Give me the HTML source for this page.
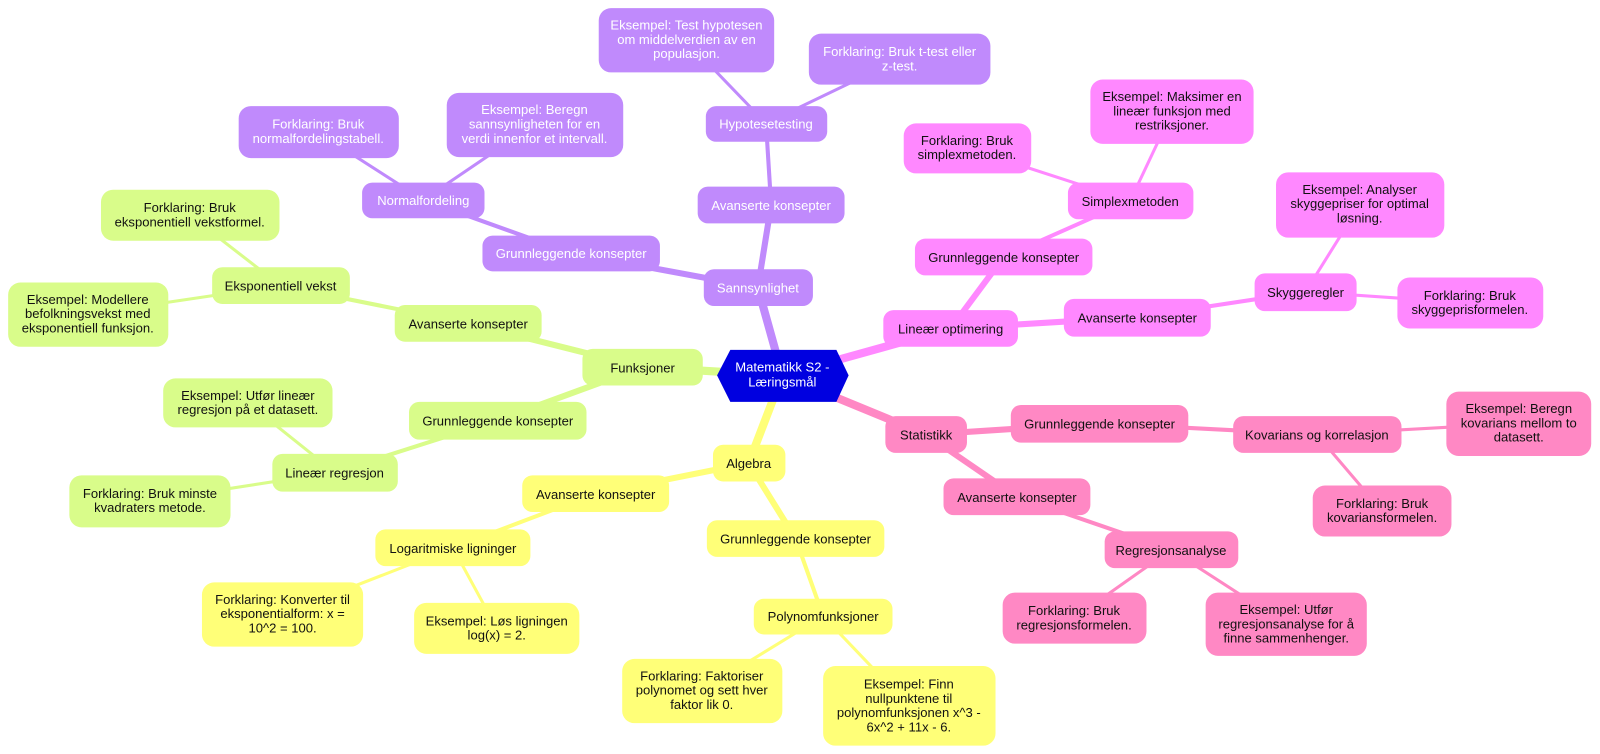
<!DOCTYPE html>
<html><head><meta charset="utf-8"><style>
html,body{margin:0;padding:0;background:#fff;width:1600px;height:754px;overflow:hidden}
svg text{font-family:"Liberation Sans",sans-serif;font-size:12.8px;text-anchor:middle}
.p rect{fill:#c08afc}.p text{fill:#fff}
.m rect{fill:#ff88ff}.m text{fill:#111}
.k rect{fill:#ff88c4}.k text{fill:#111}
.y rect{fill:#ffff78}.y text{fill:#111}
.g rect{fill:#d9fc8a}.g text{fill:#111}
</style></head><body>
<svg width="1600" height="754" viewBox="0 0 1600 754" xmlns="http://www.w3.org/2000/svg">
<g transform="scale(1.02)">
<g stroke-linecap="round" fill="none">
<!-- purple -->
<g stroke="#c08afc">
<line x1="767" y1="368" x2="743" y2="282" stroke-width="8"/>
<line x1="743" y1="282" x2="756" y2="201" stroke-width="6"/>
<line x1="743" y1="282" x2="560" y2="248" stroke-width="6"/>
<line x1="756" y1="201" x2="751" y2="121" stroke-width="4"/>
<line x1="751" y1="121" x2="673" y2="40" stroke-width="3"/>
<line x1="751" y1="121" x2="882" y2="58" stroke-width="3"/>
<line x1="560" y1="248" x2="415" y2="196" stroke-width="4"/>
<line x1="415" y1="196" x2="312" y2="130" stroke-width="3"/>
<line x1="415" y1="196" x2="524" y2="122" stroke-width="3"/>
</g>
<g stroke="#ff88ff">
<line x1="767" y1="368" x2="932" y2="322" stroke-width="8"/>
<line x1="932" y1="322" x2="984" y2="252" stroke-width="6"/>
<line x1="932" y1="322" x2="1115" y2="311" stroke-width="6"/>
<line x1="984" y1="252" x2="1108" y2="197" stroke-width="4"/>
<line x1="1108" y1="197" x2="948" y2="145" stroke-width="3"/>
<line x1="1108" y1="197" x2="1149" y2="110" stroke-width="3"/>
<line x1="1115" y1="311" x2="1280" y2="286" stroke-width="4"/>
<line x1="1280" y1="286" x2="1333" y2="201" stroke-width="3"/>
<line x1="1280" y1="286" x2="1441" y2="297" stroke-width="3"/>
</g>
<g stroke="#ff88c4">
<line x1="767" y1="368" x2="908" y2="426" stroke-width="8"/>
<line x1="908" y1="426" x2="1078" y2="415" stroke-width="6"/>
<line x1="908" y1="426" x2="997" y2="487" stroke-width="6"/>
<line x1="1078" y1="415" x2="1291" y2="426" stroke-width="4"/>
<line x1="1291" y1="426" x2="1489" y2="415" stroke-width="3"/>
<line x1="1291" y1="426" x2="1355" y2="501" stroke-width="3"/>
<line x1="997" y1="487" x2="1148" y2="539" stroke-width="4"/>
<line x1="1148" y1="539" x2="1053" y2="606" stroke-width="3"/>
<line x1="1148" y1="539" x2="1261" y2="612" stroke-width="3"/>
</g>
<g stroke="#ffff78">
<line x1="767" y1="368" x2="734" y2="454" stroke-width="8"/>
<line x1="734" y1="454" x2="780" y2="528" stroke-width="6"/>
<line x1="734" y1="454" x2="584" y2="484" stroke-width="6"/>
<line x1="780" y1="528" x2="807" y2="604" stroke-width="4"/>
<line x1="807" y1="604" x2="688" y2="677" stroke-width="3"/>
<line x1="807" y1="604" x2="891" y2="692" stroke-width="3"/>
<line x1="584" y1="484" x2="444" y2="537" stroke-width="4"/>
<line x1="444" y1="537" x2="277" y2="602" stroke-width="3"/>
<line x1="444" y1="537" x2="487" y2="616" stroke-width="3"/>
</g>
<g stroke="#d9fc8a">
<line x1="767" y1="368" x2="630" y2="360" stroke-width="8"/>
<line x1="630" y1="360" x2="459" y2="317" stroke-width="6"/>
<line x1="630" y1="360" x2="488" y2="412" stroke-width="6"/>
<line x1="459" y1="317" x2="275" y2="280" stroke-width="4"/>
<line x1="275" y1="280" x2="186" y2="211" stroke-width="3"/>
<line x1="275" y1="280" x2="86" y2="308" stroke-width="3"/>
<line x1="488" y1="412" x2="328" y2="463" stroke-width="4"/>
<line x1="328" y1="463" x2="243" y2="395" stroke-width="3"/>
<line x1="328" y1="463" x2="147" y2="491" stroke-width="3"/>
</g>
</g>

<!-- root -->
<polygon points="716,343 820,343 832,368 820,394 716,394 703,368" fill="#0000e0"/>
<text x="767" y="364" fill="#fff">Matematikk S2 -</text>
<text x="767" y="379" fill="#fff">Læringsmål</text>

<g class="p">
<rect x="690" y="264" width="107" height="36" rx="10"/><text x="743" y="287">Sannsynlighet</text>
<rect x="684" y="183" width="144" height="36" rx="10"/><text x="756" y="206">Avanserte konsepter</text>
<rect x="692" y="104" width="119" height="35" rx="10"/><text x="751" y="126">Hypotesetesting</text>
<rect x="587" y="8" width="172" height="63" rx="12"/><text x="673" y="29">Eksempel: Test hypotesen</text><text x="673" y="43">om middelverdien av en</text><text x="673" y="57">populasjon.</text>
<rect x="793" y="33" width="178" height="50" rx="12"/><text x="882" y="55">Forklaring: Bruk t-test eller</text><text x="882" y="69">z-test.</text>
<rect x="473" y="231" width="174" height="35" rx="10"/><text x="560" y="253">Grunnleggende konsepter</text>
<rect x="355" y="179" width="120" height="35" rx="10"/><text x="415" y="201">Normalfordeling</text>
<rect x="234" y="104" width="157" height="51" rx="12"/><text x="312" y="126">Forklaring: Bruk</text><text x="312" y="140">normalfordelingstabell.</text>
<rect x="438" y="91" width="173" height="63" rx="12"/><text x="524" y="112">Eksempel: Beregn</text><text x="524" y="126">sannsynligheten for en</text><text x="524" y="140">verdi innenfor et intervall.</text>
</g>

<g class="m">
<rect x="866" y="304" width="132" height="36" rx="10"/><text x="932" y="327">Lineær optimering</text>
<rect x="897" y="234" width="174" height="36" rx="10"/><text x="984" y="257">Grunnleggende konsepter</text>
<rect x="1047" y="179" width="123" height="36" rx="10"/><text x="1108" y="202">Simplexmetoden</text>
<rect x="886" y="121" width="125" height="49" rx="12"/><text x="948" y="142">Forklaring: Bruk</text><text x="948" y="156">simplexmetoden.</text>
<rect x="1069" y="78" width="160" height="63" rx="12"/><text x="1149" y="99">Eksempel: Maksimer en</text><text x="1149" y="113">lineær funksjon med</text><text x="1149" y="127">restriksjoner.</text>
<rect x="1043" y="293" width="144" height="37" rx="10"/><text x="1115" y="316">Avanserte konsepter</text>
<rect x="1230" y="268" width="100" height="37" rx="10"/><text x="1280" y="291">Skyggeregler</text>
<rect x="1251" y="169" width="165" height="64" rx="12"/><text x="1333" y="190">Eksempel: Analyser</text><text x="1333" y="204">skyggepriser for optimal</text><text x="1333" y="218">løsning.</text>
<rect x="1370" y="272" width="143" height="50" rx="12"/><text x="1441" y="294">Forklaring: Bruk</text><text x="1441" y="308">skyggeprisformelen.</text>
</g>

<g class="k">
<rect x="868" y="408" width="80" height="36" rx="10"/><text x="908" y="431">Statistikk</text>
<rect x="991" y="397" width="174" height="37" rx="10"/><text x="1078" y="420">Grunnleggende konsepter</text>
<rect x="1209" y="408" width="165" height="36" rx="10"/><text x="1291" y="431">Kovarians og korrelasjon</text>
<rect x="1418" y="384" width="142" height="63" rx="12"/><text x="1489" y="405">Eksempel: Beregn</text><text x="1489" y="419">kovarians mellom to</text><text x="1489" y="433">datasett.</text>
<rect x="1287" y="476" width="136" height="50" rx="12"/><text x="1355" y="498">Forklaring: Bruk</text><text x="1355" y="512">kovariansformelen.</text>
<rect x="925" y="469" width="144" height="36" rx="10"/><text x="997" y="492">Avanserte konsepter</text>
<rect x="1083" y="521" width="131" height="36" rx="10"/><text x="1148" y="544">Regresjonsanalyse</text>
<rect x="983" y="581" width="141" height="50" rx="12"/><text x="1053" y="603">Forklaring: Bruk</text><text x="1053" y="617">regresjonsformelen.</text>
<rect x="1182" y="581" width="158" height="62" rx="12"/><text x="1261" y="602">Eksempel: Utfør</text><text x="1261" y="616">regresjonsanalyse for å</text><text x="1261" y="630">finne sammenhenger.</text>
</g>

<g class="y">
<rect x="699" y="436" width="71" height="36" rx="10"/><text x="734" y="459">Algebra</text>
<rect x="693" y="510" width="174" height="36" rx="10"/><text x="780" y="533">Grunnleggende konsepter</text>
<rect x="739" y="587" width="136" height="35" rx="10"/><text x="807" y="609">Polynomfunksjoner</text>
<rect x="610" y="646" width="157" height="63" rx="12"/><text x="688" y="667">Forklaring: Faktoriser</text><text x="688" y="681">polynomet og sett hver</text><text x="688" y="695">faktor lik 0.</text>
<rect x="807" y="653" width="169" height="78" rx="12"/><text x="891" y="675">Eksempel: Finn</text><text x="891" y="689">nullpunktene til</text><text x="891" y="703">polynomfunksjonen x^3 -</text><text x="891" y="717">6x^2 + 11x - 6.</text>
<rect x="512" y="466" width="144" height="36" rx="10"/><text x="584" y="489">Avanserte konsepter</text>
<rect x="368" y="519" width="152" height="36" rx="10"/><text x="444" y="542">Logaritmiske ligninger</text>
<rect x="198" y="571" width="158" height="63" rx="12"/><text x="277" y="592">Forklaring: Konverter til</text><text x="277" y="606">eksponentialform: x =</text><text x="277" y="620">10^2 = 100.</text>
<rect x="406" y="591" width="162" height="50" rx="12"/><text x="487" y="613">Eksempel: Løs ligningen</text><text x="487" y="627">log(x) = 2.</text>
</g>

<g class="g">
<rect x="571" y="342" width="118" height="36" rx="10"/><text x="630" y="365">Funksjoner</text>
<rect x="387" y="299" width="144" height="36" rx="10"/><text x="459" y="322">Avanserte konsepter</text>
<rect x="208" y="262" width="135" height="36" rx="10"/><text x="275" y="285">Eksponentiell vekst</text>
<rect x="99" y="186" width="175" height="50" rx="12"/><text x="186" y="208">Forklaring: Bruk</text><text x="186" y="222">eksponentiell vekstformel.</text>
<rect x="8" y="277" width="157" height="63" rx="12"/><text x="86" y="298">Eksempel: Modellere</text><text x="86" y="312">befolkningsvekst med</text><text x="86" y="326">eksponentiell funksjon.</text>
<rect x="401" y="394" width="174" height="37" rx="10"/><text x="488" y="417">Grunnleggende konsepter</text>
<rect x="267" y="445" width="123" height="37" rx="10"/><text x="328" y="468">Lineær regresjon</text>
<rect x="160" y="371" width="166" height="48" rx="12"/><text x="243" y="392">Eksempel: Utfør lineær</text><text x="243" y="406">regresjon på et datasett.</text>
<rect x="68" y="466" width="158" height="51" rx="12"/><text x="147" y="488">Forklaring: Bruk minste</text><text x="147" y="502">kvadraters metode.</text>
</g>
</g>
</svg>
</body></html>
